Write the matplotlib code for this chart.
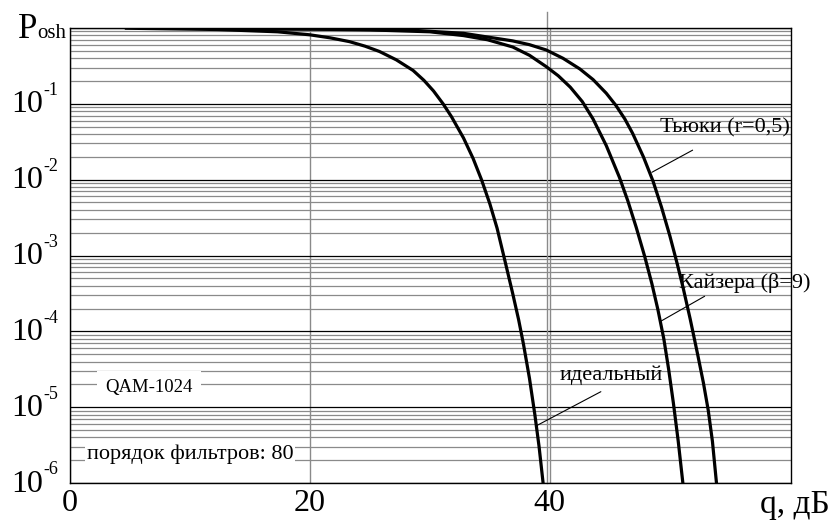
#!/usr/bin/env python
# -*- coding: utf-8 -*-
"""
Вероятность ошибки QAM-1024 для разных фильтров (порядок 80)
"""

import matplotlib
matplotlib.use('Agg')
import matplotlib.pyplot as plt
from matplotlib.ticker import LogLocator, NullFormatter, FixedLocator

plt.rcParams['font.family'] = ['Liberation Serif', 'DejaVu Serif']

# q, дБ и lg(Posh)
q_ideal = [4.7, 12.3, 17.3, 20.0, 21.7, 23.3, 24.6, 25.8, 27.2, 28.6, 29.5, 30.3, 31.1, 31.8,
           32.8, 33.6, 34.3, 35.0, 35.6, 36.3, 36.9, 37.4, 37.8, 38.3, 38.75, 39.1, 39.45]
lg_ideal = [-0.003, -0.02, -0.05, -0.09, -0.13, -0.18, -0.24, -0.31, -0.42, -0.56, -0.69, -0.83, -1.0, -1.17,
            -1.45, -1.72, -2.0, -2.32, -2.64, -3.1, -3.5, -3.85, -4.17, -4.62, -5.1, -5.52, -6.02]

q_kaiser = [12.3, 20.0, 25.0, 30.0, 32.8, 34.8, 36.9, 38.3, 39.7, 40.7, 41.7, 42.7, 43.6, 44.7,
            45.8, 46.5, 47.2, 47.9, 48.5, 49.0, 49.5, 49.9, 50.3, 50.7, 51.1]
lg_kaiser = [-0.01, -0.015, -0.025, -0.05, -0.1, -0.155, -0.25, -0.36, -0.51, -0.63, -0.78, -0.97, -1.2, -1.55,
             -1.97, -2.28, -2.63, -3.01, -3.37, -3.71, -4.1, -4.5, -4.95, -5.45, -6.02]

q_tukey = [12.3, 20.0, 25.0, 28.6, 32.8, 36.9, 38.3, 39.7, 41.1, 42.5, 43.6, 44.7, 45.5, 46.25,
           46.9, 47.8, 48.6, 49.3, 50.0, 50.6, 51.1, 51.7, 52.3, 52.8, 53.2, 53.55, 53.9]
lg_tukey = [-0.01, -0.012, -0.02, -0.03, -0.07, -0.17, -0.22, -0.29, -0.4, -0.54, -0.68, -0.86, -1.02, -1.2,
            -1.39, -1.7, -2.02, -2.36, -2.74, -3.1, -3.42, -3.84, -4.29, -4.68, -5.04, -5.45, -6.02]

curves = [(q_ideal, lg_ideal), (q_kaiser, lg_kaiser), (q_tukey, lg_tukey)]

# подписи кривых: текст, центр текста, начало и конец выноски
curve_labels = ['Тьюки (r=0,5)', 'Кайзера (β=9)', 'идеальный']
label_pos = [(54.6, 4.8e-2), (56.25, 4.3e-4), (45.1, 2.6e-5)]
leader_on_curve = [(48.5, 1.25e-2), (49.25, 1.36e-4), (38.8, 5.6e-6)]
leader_end = [(51.9, 2.45e-2), (52.9, 2.9e-4), (44.25, 1.6e-5)]

x_ticks = [0, 20, 40]
decades = [1, 2, 3, 4, 5, 6]
extra_line_q = 39.75  # лишняя вертикальная линия у 40 дБ

PX = 0.72  # 1 пиксель в пунктах при dpi=100

fig = plt.figure(figsize=(8.31, 5.20), dpi=100)
ax = fig.add_axes([70 / 831, 37 / 520, 721 / 831, 455 / 520])

ax.set_yscale('log')
ax.set_xlim(0, 60.1)
ax.set_ylim(1e-6, 1)

# сетка
ax.yaxis.set_major_locator(LogLocator(base=10, numticks=10))
ax.yaxis.set_minor_locator(LogLocator(base=10, subs=range(2, 10), numticks=100))
ax.yaxis.set_major_formatter(NullFormatter())
ax.yaxis.set_minor_formatter(NullFormatter())
ax.xaxis.set_major_locator(FixedLocator(x_ticks))
ax.grid(True, which='major', axis='y', color='black', lw=0.9)
ax.grid(True, which='minor', axis='y', color='#8a8a8a', lw=0.9)
ax.grid(True, which='major', axis='x', color='#8a8a8a', lw=1.0)
ax.set_axisbelow(True)
ax.plot([extra_line_q, extra_line_q], [1e-6, 1.62], color='#8a8a8a', lw=1.0,
        clip_on=False, zorder=1)

for side in ax.spines.values():
    side.set_color('black')
    side.set_linewidth(1.0)

ax.tick_params(which='both', length=0)
ax.tick_params(axis='x', labelsize=23, pad=4)

for q, lg in curves:
    ax.plot(q, [10.0 ** v for v in lg], color='black', lw=2.3, zorder=3,
            solid_joinstyle='round')

# выноски и подписи
for text, pos, p0, p1 in zip(curve_labels, label_pos, leader_on_curve, leader_end):
    ax.annotate('', xy=p0, xytext=p1,
                arrowprops=dict(arrowstyle='-', color='black', lw=0.8,
                                shrinkA=0, shrinkB=0))
    ax.text(pos[0], pos[1], text, fontsize=16, ha='center', va='center', zorder=4)

ax.text(6.6, 1.8e-5, 'QAM-1024', fontsize=13.5, ha='center', va='center',
        bbox=dict(facecolor='white', edgecolor='none', pad=6))
ax.text(10.0, 2.4e-6, 'порядок фильтров: 80', fontsize=16, ha='center', va='center',
        bbox=dict(facecolor='white', edgecolor='none', pad=1))

# подписи оси Y: 10 и степень
for k in decades:
    ax.annotate('10', xy=(0, 10.0 ** -k), xycoords=('axes fraction', 'data'),
                xytext=(-27 * PX, -1 * PX), textcoords='offset points',
                ha='right', va='center', fontsize=23)
    ax.annotate('-%d' % k, xy=(0, 10.0 ** -k), xycoords=('axes fraction', 'data'),
                xytext=(-27 * PX, 13 * PX), textcoords='offset points',
                ha='left', va='center', fontsize=13)

ax.annotate('P', xy=(0, 1), xycoords='axes fraction',
            xytext=(-33 * PX, -10 * PX), textcoords='offset points',
            ha='right', va='baseline', fontsize=25)
ax.annotate('osh', xy=(0, 1), xycoords='axes fraction',
            xytext=(-33 * PX, -10 * PX), textcoords='offset points',
            ha='left', va='baseline', fontsize=15)

ax.annotate('q, дБ', xy=(1, 0), xycoords='axes fraction',
            xytext=(39 * PX, -22 * PX), textcoords='offset points',
            ha='right', va='center', fontsize=24)

fig.savefig('out.png', dpi=100)
